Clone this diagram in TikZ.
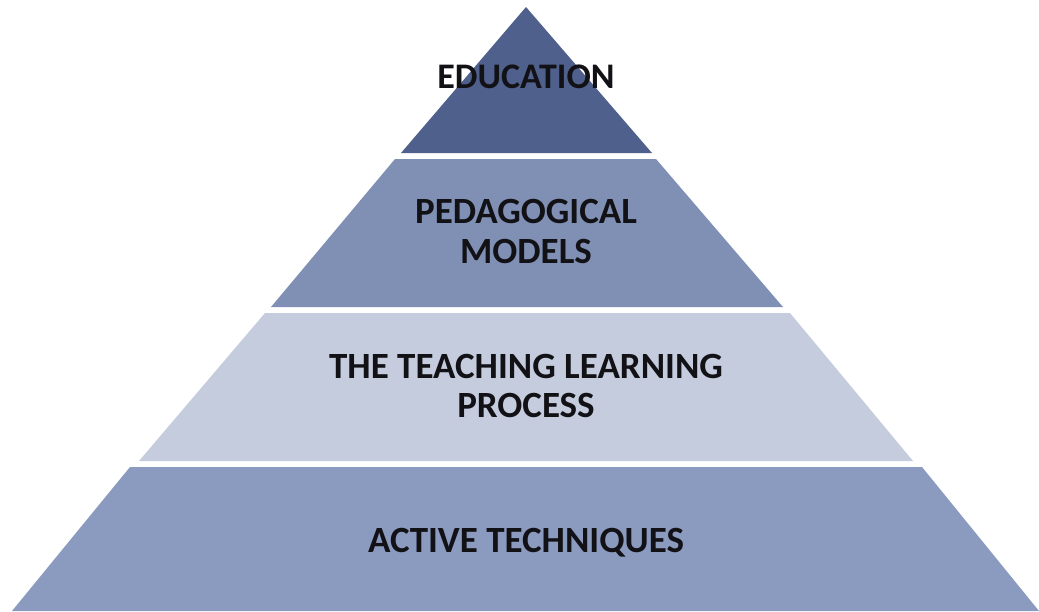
\documentclass[tikz,border=0pt]{standalone}
\usepackage{fontspec}
\setmainfont{Carlito}
\definecolor{bandA}{RGB}{80,96,140}
\definecolor{bandB}{RGB}{128,143,180}
\definecolor{bandC}{RGB}{197,204,221}
\definecolor{bandD}{RGB}{139,154,191}
\definecolor{txt}{RGB}{18,18,22}
\begin{document}
\begin{tikzpicture}[x=1pt,y=-1pt,
  lbl/.style={font=\bfseries\fontsize{37}{40}\selectfont, text=txt, anchor=base, inner sep=0pt}]
\useasboundingbox (0,0) rectangle (1039,611);
\fill[white] (0,0) rectangle (1039,611);
% bands
\fill[bandA] (526,7) -- (652,153) -- (401,153) -- cycle;
\fill[bandB] (395,159) -- (656,159) -- (783,307) -- (271,307) -- cycle;
\fill[bandC] (265,313) -- (790,313) -- (913,461) -- (139,461) -- cycle;
\fill[bandD] (130,467) -- (922,467) -- (1039,611) -- (12,611) -- cycle;
% labels
\node[lbl, font=\bfseries\fontsize{36}{40}\selectfont] (edu) at (526,88) {EDUCATION};
\node[lbl] (peda) at (526,223) {PEDAGOGICAL};
\node[lbl] (mode) at (526,263) {MODELS};
\node[lbl] (teach) at (526,378) {THE TEACHING LEARNING};
\node[lbl] (proc) at (526,417) {PROCESS};
\node[lbl] (acti) at (526,552) {ACTIVE TECHNIQUES};
\end{tikzpicture}
\end{document}
